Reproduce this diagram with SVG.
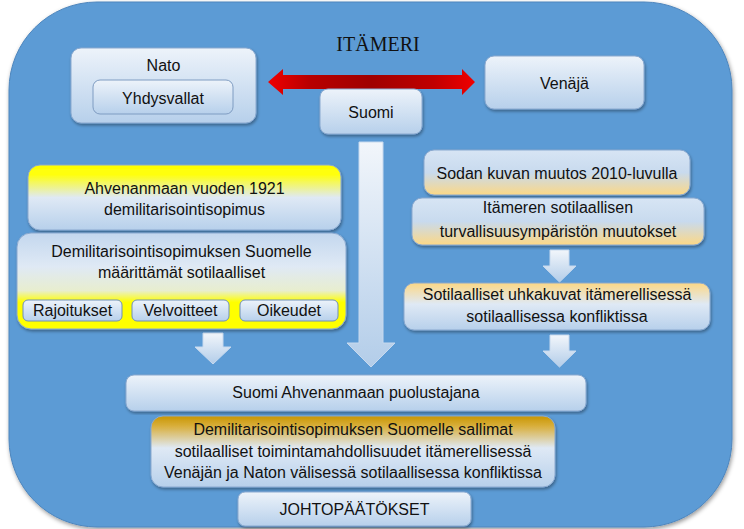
<svg xmlns="http://www.w3.org/2000/svg" width="744" height="529" viewBox="0 0 744 529">
<defs>
<linearGradient id="gBlue" x1="0" y1="0" x2="0" y2="1"><stop offset="0" stop-color="#edf3fa"/><stop offset="1" stop-color="#b7d0eb"/></linearGradient>
<linearGradient id="gYelTop" x1="0" y1="0" x2="0" y2="1"><stop offset="0" stop-color="#ffff00"/><stop offset="0.15" stop-color="#ffff10"/><stop offset="0.5" stop-color="#dfe9f5"/><stop offset="1" stop-color="#b7d0eb"/></linearGradient>
<linearGradient id="gYelBot" x1="0" y1="0" x2="0" y2="1"><stop offset="0" stop-color="#c3d7ee"/><stop offset="0.35" stop-color="#dfe9f5"/><stop offset="0.6" stop-color="#e8eecf"/><stop offset="0.72" stop-color="#ffff00"/><stop offset="1" stop-color="#ffff00"/></linearGradient>
<linearGradient id="gOrBot" x1="0" y1="0" x2="0" y2="1"><stop offset="0" stop-color="#d7e5f4"/><stop offset="0.5" stop-color="#c8daee"/><stop offset="1" stop-color="#fcd886"/></linearGradient>
<linearGradient id="gOrTop" x1="0" y1="0" x2="0" y2="1"><stop offset="0" stop-color="#fcd886"/><stop offset="0.45" stop-color="#dfe9f5"/><stop offset="1" stop-color="#b7d0eb"/></linearGradient>
<linearGradient id="gGold" x1="0" y1="0" x2="0" y2="1"><stop offset="0" stop-color="#c99600"/><stop offset="0.15" stop-color="#d9b040"/><stop offset="0.45" stop-color="#dfe9f5"/><stop offset="1" stop-color="#b7d0eb"/></linearGradient>
<linearGradient id="gArrow" x1="0" y1="0" x2="0" y2="1"><stop offset="0" stop-color="#f2f6fb"/><stop offset="1" stop-color="#b3cde9"/></linearGradient>
<linearGradient id="gRed" x1="0" y1="0" x2="1" y2="0"><stop offset="0" stop-color="#f00000"/><stop offset="0.2" stop-color="#b80000"/><stop offset="0.5" stop-color="#a00000"/><stop offset="0.8" stop-color="#c00000"/><stop offset="1" stop-color="#f00000"/></linearGradient>
<filter id="sh" x="-5%" y="-5%" width="110%" height="115%"><feDropShadow dx="1" dy="2" stdDeviation="1.5" flood-color="#000" flood-opacity="0.35"/></filter>
<filter id="bgsh" x="-3%" y="-3%" width="106%" height="106%"><feDropShadow dx="1" dy="2" stdDeviation="2" flood-color="#000" flood-opacity="0.4"/></filter>
</defs>
<style>
.box{stroke:#8aa9cf;stroke-width:1;filter:url(#sh)}
.t{font-family:"Liberation Sans",Arial,sans-serif;font-size:16px;fill:#111;text-anchor:middle}
.arr{fill:url(#gArrow);stroke:#c7d9ee;stroke-width:1}
</style>
<rect id="background" x="9" y="2" width="723" height="525" rx="88" ry="88" fill="#5b9bd5" stroke="#4f86bd" stroke-width="1" filter="url(#bgsh)"/>
<text id="itameri" x="378" y="51" font-family="Liberation Serif,'Times New Roman',serif" font-size="20" fill="#111" text-anchor="middle">ITÄMERI</text>
<g id="connectors">
<polygon points="268,82 283,69 283,75 462,75 462,69 475,82 462,95 462,89 283,89 283,95" fill="url(#gRed)"/>
<polygon class="arr" points="359,142 383,142 383,343 395,343 371,367 347,343 359,343"/>
<polygon class="arr" points="203,333 223,333 223,347 231,347 213,364 195,347 203,347"/>
<polygon class="arr" points="550,250 569,250 569,266 576,266 559.5,282 543,266 550,266"/>
<polygon class="arr" points="550,335 569,335 569,351 576,351 559.5,367 543,351 550,351"/>
</g>
<g id="nato">
<rect class="box" x="71" y="48" width="185" height="75" rx="10" fill="url(#gBlue)"/>
<text class="t" x="163.5" y="71">Nato</text>
</g>
<g id="yhdysvallat">
<rect x="93" y="80" width="140" height="34" rx="7" fill="url(#gBlue)" stroke="#7f9cc2"/>
<text class="t" x="163" y="103.5">Yhdysvallat</text>
</g>
<g id="suomi">
<rect class="box" x="320" y="89" width="102" height="45" rx="8" fill="url(#gBlue)"/>
<text class="t" x="371" y="118">Suomi</text>
</g>
<g id="venaja">
<rect class="box" x="485" y="56" width="159" height="53" rx="9" fill="url(#gBlue)"/>
<text class="t" x="564.5" y="88.5">Venäjä</text>
</g>
<g id="ahvenanmaa">
<rect class="box" x="28" y="165" width="313" height="65" rx="12" fill="url(#gYelTop)"/>
<text class="t" x="184.5" y="194">Ahvenanmaan vuoden 1921</text>
<text class="t" x="184.5" y="215">demilitarisointisopimus</text>
</g>
<g id="demil-maarittamat">
<rect class="box" x="17" y="233" width="329" height="96" rx="14" fill="url(#gYelBot)" stroke="#d8d860"/>
<text class="t" x="181.5" y="257">Demilitarisointisopimuksen Suomelle</text>
<text class="t" x="181.5" y="278">määrittämät sotilaalliset</text>
</g>
<g id="rajoitukset">
<rect x="23" y="300" width="99" height="21" rx="5" fill="url(#gBlue)" stroke="#6f8fb8"/>
<text class="t" x="72.5" y="316">Rajoitukset</text>
</g>
<g id="velvoitteet">
<rect x="132" y="300" width="97" height="21" rx="5" fill="url(#gBlue)" stroke="#6f8fb8"/>
<text class="t" x="180.5" y="316">Velvoitteet</text>
</g>
<g id="oikeudet">
<rect x="240" y="300" width="98" height="21" rx="5" fill="url(#gBlue)" stroke="#6f8fb8"/>
<text class="t" x="289" y="316">Oikeudet</text>
</g>
<g id="sodan-kuva">
<rect class="box" x="424" y="150" width="266" height="45" rx="10" fill="url(#gOrBot)"/>
<text class="t" x="557" y="179">Sodan kuvan muutos 2010-luvulla</text>
</g>
<g id="itameren-muutokset">
<rect class="box" x="412" y="198" width="292" height="47" rx="10" fill="url(#gOrBot)"/>
<text class="t" x="558" y="213">Itämeren sotilaallisen</text>
<text class="t" x="558" y="237">turvallisuusympäristön muutokset</text>
</g>
<g id="uhkakuvat">
<rect class="box" x="404" y="283" width="306" height="47" rx="10" fill="url(#gOrTop)"/>
<text class="t" x="557" y="300">Sotilaalliset uhkakuvat itämerellisessä</text>
<text class="t" x="557" y="322">sotilaallisessa konfliktissa</text>
</g>
<g id="puolustajana">
<rect class="box" x="126" y="375" width="460" height="36" rx="8" fill="url(#gBlue)"/>
<text class="t" x="356" y="398">Suomi Ahvenanmaan puolustajana</text>
</g>
<g id="sallimat">
<rect class="box" x="151" y="416" width="404" height="71" rx="12" fill="url(#gGold)"/>
<text class="t" x="353" y="435">Demilitarisointisopimuksen Suomelle sallimat</text>
<text class="t" x="353" y="457">sotilaalliset toimintamahdollisuudet itämerellisessä</text>
<text class="t" x="353" y="478">Venäjän ja Naton välisessä sotilaallisessa konfliktissa</text>
</g>
<g id="johtopaatokset">
<rect class="box" x="238" y="492" width="233" height="34" rx="7" fill="url(#gBlue)"/>
<text class="t" x="354.5" y="515">JOHTOPÄÄTÖKSET</text>
</g>
</svg>
